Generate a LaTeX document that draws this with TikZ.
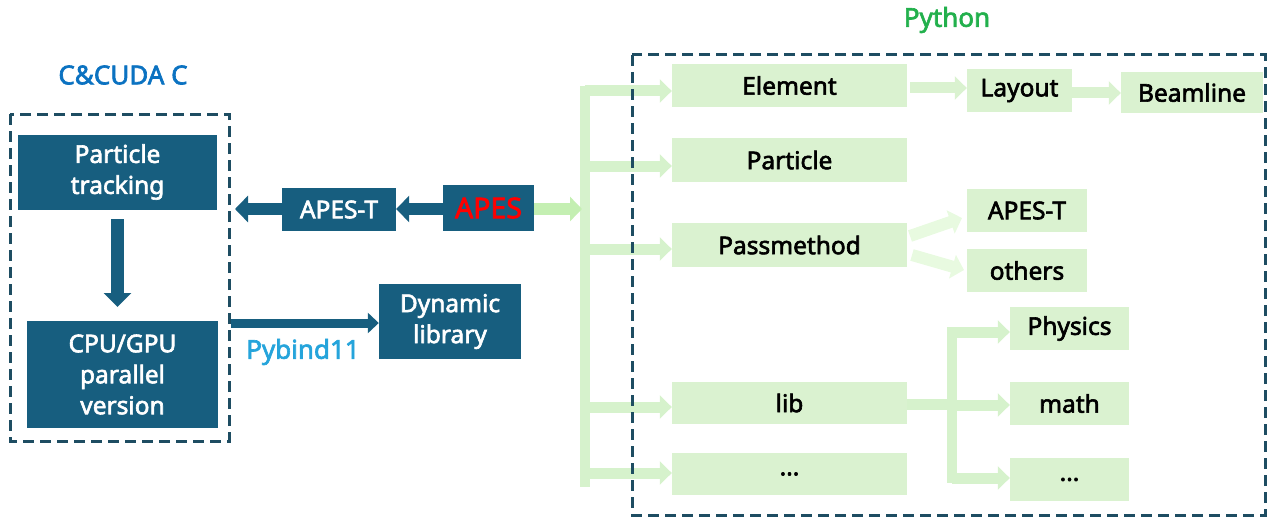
\documentclass[tikz,border=0pt]{standalone}
\usepackage{fontspec}
\setmainfont{Noto Sans}[FakeBold=2.5]
\usetikzlibrary{arrows.meta}
\definecolor{deepblue}{HTML}{175E7F}
\definecolor{dashblue}{HTML}{1E4D62}
\definecolor{leaf}{HTML}{DAF2D0}
\definecolor{busgreen}{HTML}{D6F2CC}
\definecolor{apesgreen}{HTML}{C4EFB2}
\definecolor{palegreen}{HTML}{E8FAE0}
\definecolor{ctitle}{HTML}{0B72C1}
\definecolor{pytitle}{HTML}{22B04C}
\definecolor{pybind}{HTML}{25A4DB}
\begin{document}
\begin{tikzpicture}[x=1pt,y=-1pt,
  every node/.style={font=\fontsize{24.5}{31}\selectfont, align=center, inner sep=0pt},
  darkbox/.style={fill=deepblue, text=white},
  leafbox/.style={fill=leaf, text=black},
  frame/.style={draw=dashblue, line width=3pt, dash pattern=on 11pt off 6pt},
  darkarrow/.style={draw=deepblue, line width=12pt, -{Triangle[width=26pt,length=13pt]}},
  thinarrow/.style={draw=deepblue, line width=9pt, -{Triangle[width=20pt,length=11pt]}},
  busarrow/.style={draw=busgreen, line width=11pt, -{Triangle[width=23pt,length=12pt]}},
  palearrow/.style={draw=palegreen, line width=12pt, -{Triangle[width=24pt,length=12pt]}},
]
\useasboundingbox (0,0) rectangle (1267,519);

% C / CUDA C side
\node[darkbox, minimum width=199pt, minimum height=75pt] (track) at (117.5,172) {Particle\\tracking};
\node[darkbox, minimum width=191pt, minimum height=107pt] (cpu) at (122.5,374.5) {CPU/GPU\\parallel\\version};
\node[darkbox, minimum width=114pt, minimum height=43pt] (apest) at (339,209.5) {APES-T};
\node[darkbox, minimum width=91pt, minimum height=46pt, text=red, font=\fontsize{28.5}{31}\selectfont] (apes) at (488.5,208) {APES};
\node[darkbox, minimum width=142pt, minimum height=75pt] (dyn) at (450,321.5) {Dynamic\\library};

\node[text=ctitle, font=\fontsize{26}{31}\selectfont] (ctitle) at (123,75) {C\&CUDA C};
\node[text=pytitle, font=\fontsize{26}{31}\selectfont] (pytitle) at (947,20) {Python};
\node[text=pybind, font=\fontsize{26}{31}\selectfont] (pyb) at (303,352) {Pybind11};

\coordinate (cleft) at (235,209);
\coordinate (cbind) at (231,323);

\draw[darkarrow, line width=13pt, -{Triangle[width=27pt,length=14pt]}] (track.south |- 0,219) -- (track.south |- 0,307);
\draw[darkarrow] (apes.west |- 0,209) -- (apest.east |- 0,209);
\draw[darkarrow] (apest.west |- 0,209) -- (cleft);
\draw[thinarrow] (cbind) -- (dyn.west |- cbind);

% Python side
\node[leafbox, minimum width=235pt, minimum height=43pt] (elem) at (789.5,85.5) {Element};
\node[leafbox, minimum width=235pt, minimum height=44pt] (part) at (789.5,160) {Particle};
\node[leafbox, minimum width=235pt, minimum height=44pt] (pass) at (789.5,245) {Passmethod};
\node[leafbox, minimum width=235pt, minimum height=42pt] (lib) at (789.5,403) {lib};
\node[leafbox, minimum width=235pt, minimum height=42pt] (more) at (789.5,474) {...};
\node[leafbox, minimum width=105pt, minimum height=43pt] (layout) at (1019.5,90.5) {Layout};
\node[leafbox, minimum width=142pt, minimum height=41pt] (beam) at (1192,92.5) {Beamline};
\node[leafbox, minimum width=120pt, minimum height=43pt] (apest2) at (1027,210.5) {APES-T};
\node[leafbox, minimum width=120pt, minimum height=43pt] (others) at (1027,270.5) {others};
\node[leafbox, minimum width=119pt, minimum height=43pt] (phys) at (1069.5,328.5) {Physics};
\node[leafbox, minimum width=119pt, minimum height=43pt] (math) at (1069.5,403.5) {math};
\node[leafbox, minimum width=119pt, minimum height=43pt] (more2) at (1069.5,479.5) {...};

% main green bus
\coordinate (bustop) at (585,86);
\coordinate (busbot) at (585,487);
\draw[draw=busgreen, line width=10pt] (bustop) -- (busbot);
\draw[draw=apesgreen, line width=12pt, -{Triangle[width=24pt,length=12pt]}] (apes.east |- 0,209) -- (582,209);
\draw[busarrow] (585,91) -- (elem.west |- 0,91);
\draw[busarrow] (585,166) -- (part.west |- 0,166);
\draw[busarrow] (585,249) -- (pass.west |- 0,249);
\draw[busarrow] (585,407) -- (lib.west |- 0,407);
\draw[busarrow] (585,473) -- (more.west |- 0,473);

\draw[busarrow, draw=leaf] (910,88) -- (layout.west |- 0,88);
\draw[busarrow, draw=leaf] (layout.east |- 0,93) -- (beam.west |- 0,93);
\draw[palearrow] (910,236) -- (962,218);
\draw[palearrow] (912,255) -- (964,270);

% lib tree
\coordinate (libbus) at (952,404);
\draw[draw=busgreen, line width=11pt] (lib.east |- libbus) -- (libbus);
\draw[draw=busgreen, line width=10pt] (952,327) -- (952,483);
\draw[busarrow] (952,332) -- (phys.west |- 0,332);
\draw[busarrow] (952,405) -- (math.west |- 0,405);
\draw[busarrow] (952,478) -- (more2.west |- 0,478);

% dashed frames
\draw[frame] (10,114) rectangle (229,441);
\draw[frame] (632,55) rectangle (1265,515);
\end{tikzpicture}
\end{document}
